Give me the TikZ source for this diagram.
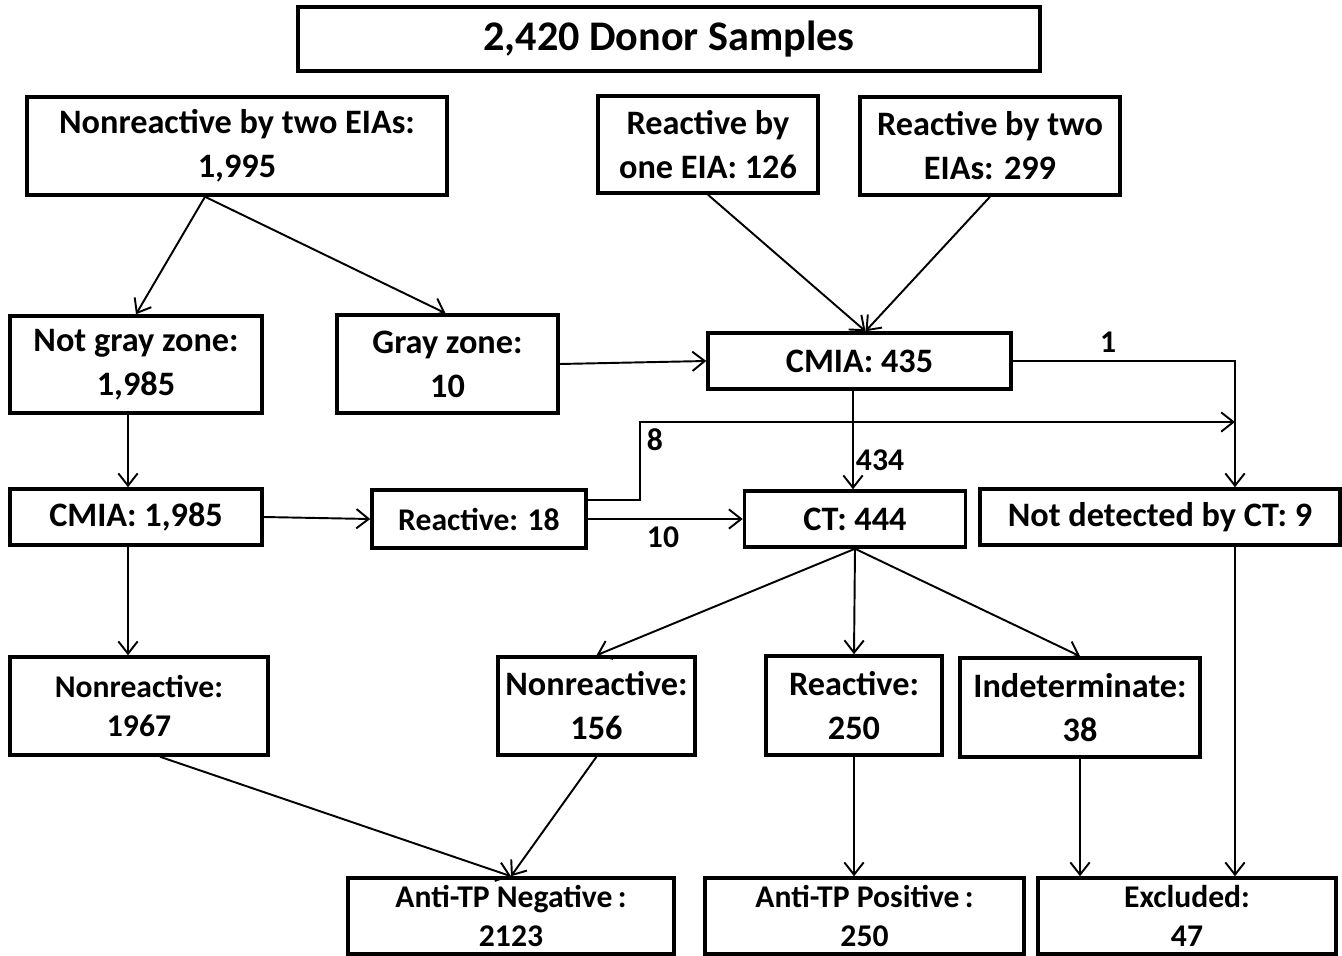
\documentclass[tikz,border=0pt]{standalone}
\usepackage{fontspec}
\setmainfont{Carlito}
\usetikzlibrary{arrows.meta,calc}
\def\u{0.02cm}

\tikzset{
  box/.style={draw, line width=2pt, align=center, inner sep=0pt,
    font=\bfseries\fontsize{19.5}{25}\selectfont},
  sbox/.style={box, font=\bfseries\fontsize{18}{22.5}\selectfont},
  arr/.style={line width=1.1pt, -{Straight Barb[length=7pt,width=11pt]}},
  lbl/.style={inner sep=0pt, font=\bfseries\fontsize{18}{20}\selectfont},
}

\begin{document}
\begin{tikzpicture}[x=0.02cm,y=-0.02cm]
		\useasboundingbox (0,0) rectangle (1342,956);
		%%%%% BOXES %%%%%
		\node[box, minimum width=742*\u, minimum height=64*\u, font=\bfseries\fontsize{24}{28}\selectfont] (donor) at (669,39) {2,420 Donor Samples};
		
		\node[box, minimum width=420*\u, minimum height=98*\u] (nrtwo) at (237,146) {Nonreactive by two EIAs:\\1,995};
		\node[box, minimum width=220*\u, minimum height=97*\u] (rone) at (708,144.5) {Reactive by\\one EIA: 126};
		\node[box, minimum width=260*\u, minimum height=98*\u] (rtwo) at (990,146) {Reactive by two\\EIAs: 299};
		
		\node[box, minimum width=252*\u, minimum height=97*\u] (notgray) at (136,364.5) {Not gray zone:\\1,985};
		\node[box, minimum width=221*\u, minimum height=98*\u] (gray) at (447.5,364) {Gray zone:\\10};
		\node[box, minimum width=303*\u, minimum height=56*\u] (cmiaA) at (859.5,361) {CMIA: 435};
		
		\node[box, minimum width=252*\u, minimum height=56*\u] (cmiaB) at (136,517) {CMIA: 1,985};
		\node[sbox, minimum width=214*\u, minimum height=58*\u] (rone8) at (479,519) {Reactive: 18};
		\node[box, minimum width=221*\u, minimum height=56*\u] (ct) at (855,519) {CT: 444};
		\node[box, minimum width=360*\u, minimum height=56*\u] (notdet) at (1160,517) {Not detected by CT: 9};
		
		\node[sbox, minimum width=258*\u, minimum height=98*\u] (nr1967) at (139,706) {Nonreactive:\\1967};
		\node[box, minimum width=197*\u, minimum height=98*\u] (nr156) at (596.5,706) {Nonreactive:\\156};
		\node[box, minimum width=176*\u, minimum height=99*\u] (r250) at (854,705.5) {Reactive:\\250};
		\node[box, minimum width=240*\u, minimum height=99*\u] (indet) at (1080,707.5) {Indeterminate:\\38};
		
		\node[sbox, minimum width=326*\u, minimum height=76*\u] (neg) at (511,916) {Anti-TP Negative\,:\\2123};
		\node[sbox, minimum width=319*\u, minimum height=76*\u] (pos) at (864.5,916) {Anti-TP Positive\,:\\250};
		\node[sbox, minimum width=298*\u, minimum height=76*\u] (excl) at (1187,916) {Excluded:\\47};
		
		%%%%% ARROWS %%%%%
		\draw[arr] ($(nrtwo.south)+(-32,0)$) -- (notgray.north);
		\draw[arr] ($(nrtwo.south)+(-32,0)$) -- ($(gray.north)+(-2,0)$);
		\draw[arr] (rone.south) -- ($(cmiaA.north)+(6,0)$);
		\draw[arr] (rtwo.south) -- ($(cmiaA.north)+(6,0)$);
		\draw[arr] (gray.east) -- (cmiaA.west);
		
		\coordinate (turn) at (1235,361);
		\draw[arr] (cmiaA.east) -- (turn) -- (turn |- notdet.north);
		\node[lbl] (one) at (1108,342) {1};
		
		\coordinate (ctin) at ($(ct.north)+(-2,0)$);
		\draw[arr] (ctin |- cmiaA.south) -- (ctin);
		\node[lbl] (n434) at (880,460) {434};
		
		\coordinate (leftline) at ($(cmiaB.north)+(-8,0)$);
		\draw[arr] (leftline |- notgray.south) -- (leftline);
		\draw[arr] (cmiaB.east) -- (rone8.west);
		
		\coordinate (bend) at (640,422);
		\coordinate (meet) at (turn |- bend);
		\draw[arr] ($(rone8.east)+(0,-19)$) -| (bend) -- (meet);
		\node[lbl] (eight) at (655,440) {8};
		\draw[arr] (rone8.east) -- (ct.west);
		\node[lbl] (ten) at (663,537) {10};
		
		\draw[arr] (leftline |- cmiaB.south) -- (leftline |- nr1967.north);
		\draw[arr] (ct.south) -- (nr156.north);
		\draw[arr] (ct.south) -- (r250.north);
		\draw[arr] (ct.south) -- (indet.north);
		
		\draw[arr] ($(nr1967.south)+(21,0)$) -- (neg.north);
		\draw[arr] (nr156.south) -- (neg.north);
		\draw[arr] (r250.south) -- (r250.south |- pos.north);
		\draw[arr] (indet.south) -- (indet.south |- excl.north);
		\draw[arr] (turn |- notdet.south) -- (turn |- excl.north);
		%%%%% END %%%%%
\end{tikzpicture}
\end{document}
